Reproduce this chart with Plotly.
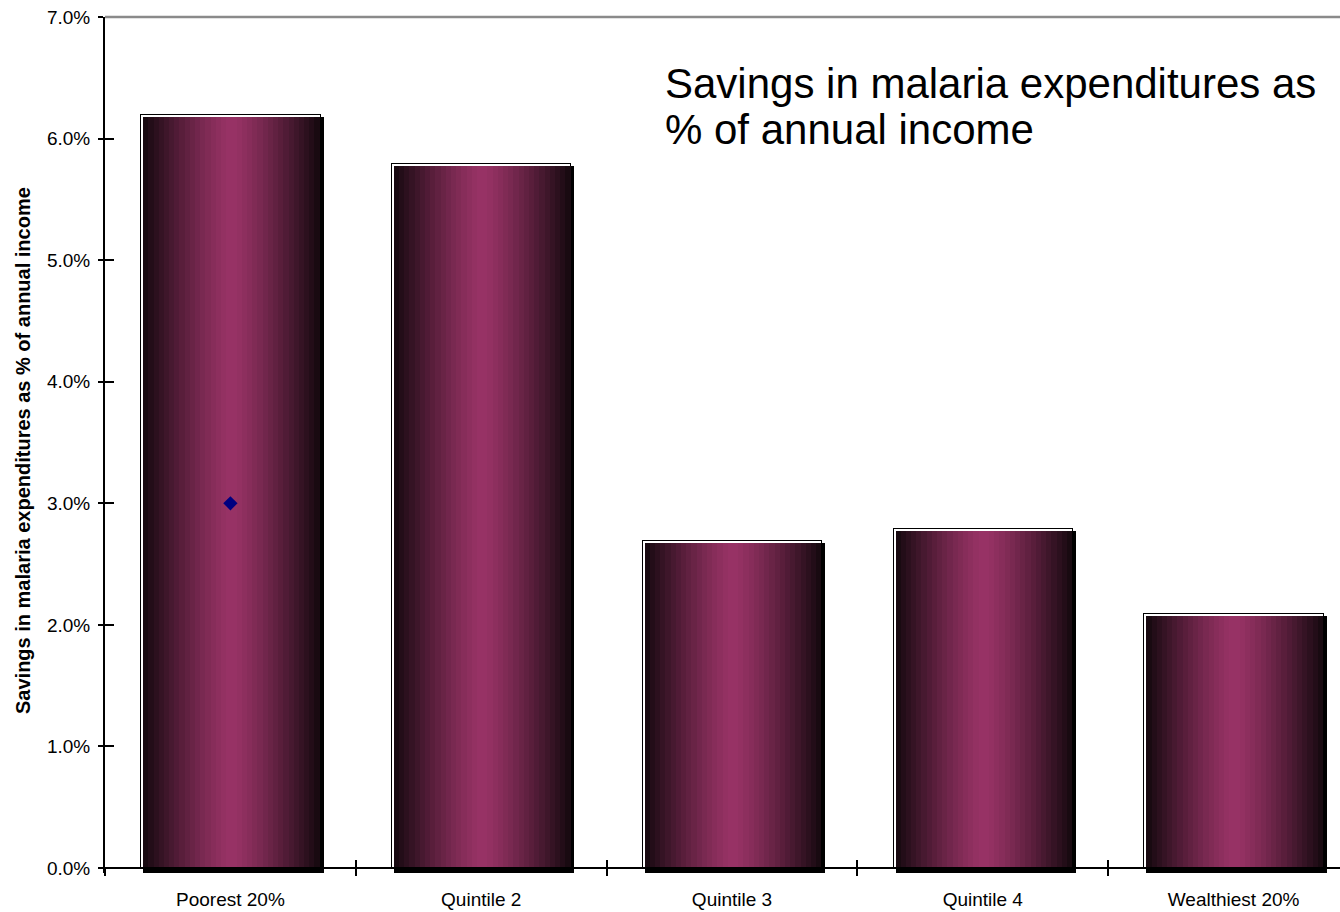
import plotly.graph_objects as go

# Savings in malaria expenditures by income quintile (% of annual income)
categories = ["Poorest 20%", "Quintile 2", "Quintile 3", "Quintile 4", "Wealthiest 20%"]
savings_pct = [6.2, 5.8, 2.7, 2.8, 2.1]

# single marker point plotted over the first bar
point_category = ["Poorest 20%"]
point_value = [3.0]

y_ticks = [0, 1, 2, 3, 4, 5, 6, 7]
y_ticktext = ["0.0%", "1.0%", "2.0%", "3.0%", "4.0%", "5.0%", "6.0%", "7.0%"]

title_lines = ["Savings in malaria expenditures as", "% of annual income"]
y_title = "Savings in malaria expenditures as % of annual income"

# ---- layout geometry ----
W, H = 1340, 912
AXIS_Y = 868                        # pixel row of the category axis
DROP = 5                            # room below the axis for bar shadows
M_L, M_R, M_T = 105, 0, 17
M_B = H - AXIS_Y - DROP
PLOT_W, PLOT_H = W - M_L - M_R, H - M_T - M_B
CAT_PX = 250.8                      # pixels per category slot
X_MAX = PLOT_W / CAT_PX - 0.5
Y_MAX = 7.0
PX = 1 / CAT_PX                     # one pixel in category units
PY = Y_MAX / (AXIS_Y - M_T)         # one pixel in value units
Y_MIN = -DROP * PY
AXIS_POS = DROP / PLOT_H            # category axis position inside the plot

BAR_W = 0.72
EDGE = (20, 8, 14)
CENTER = (153, 51, 102)
N_STRIPS = 34

fig = go.Figure()

# drop shadow: shifted 3px right and 3px down, running below the axis line
fig.add_trace(go.Bar(
    x=categories, y=[v - 3 * PY + DROP * PY for v in savings_pct],
    base=-DROP * PY, width=BAR_W, offset=-BAR_W / 2 + 3 * PX,
    marker=dict(color="#000000", line=dict(width=0)),
    hoverinfo="skip", showlegend=False,
))
# outer black frame
fig.add_trace(go.Bar(
    x=categories, y=savings_pct, width=BAR_W, offset=-BAR_W / 2,
    marker=dict(color="#000000", line=dict(width=0)),
    hoverinfo="skip", showlegend=False,
))
# white inner rim
fig.add_trace(go.Bar(
    x=categories, y=[v - 1 * PY for v in savings_pct],
    width=BAR_W - 2 * PX, offset=-BAR_W / 2 + 1 * PX,
    marker=dict(color="#ffffff", line=dict(width=0)),
    hoverinfo="skip", showlegend=False,
))

# horizontal gradient fill, built from narrow vertical strips
g_left = -BAR_W / 2 + 3 * PX
g_right = BAR_W / 2 - 1 * PX
strip_w = (g_right - g_left) / N_STRIPS
for i in range(N_STRIPS):
    t = (i + 0.5) / N_STRIPS
    f = 1 - abs(2 * t - 1) ** 1.25
    col = tuple(round(e + (c - e) * f) for e, c in zip(EDGE, CENTER))
    fig.add_trace(go.Bar(
        x=categories, y=[v - 3 * PY for v in savings_pct],
        width=strip_w * 1.02, offset=g_left + i * strip_w,
        marker=dict(color="rgb(%d,%d,%d)" % col, line=dict(width=0)),
        hoverinfo="skip", showlegend=False,
    ))

# the single data point
fig.add_trace(go.Scatter(
    x=point_category, y=point_value, mode="markers",
    marker=dict(symbol="diamond", size=11, color="#000080",
                line=dict(width=0)),
    showlegend=False,
))

# invisible trace that carries the inner half of the crossing ticks
fig.add_trace(go.Scatter(
    x=categories, y=savings_pct, xaxis="x2", yaxis="y2", mode="markers",
    marker=dict(opacity=0, size=1), hoverinfo="skip", showlegend=False,
))

FONT = "Liberation Sans, Arial, sans-serif"
TICK_FONT = dict(size=19, family=FONT, color="#000000")

fig.update_layout(
    width=W, height=H,
    margin=dict(l=M_L, r=M_R, t=M_T, b=M_B, pad=0),
    paper_bgcolor="white", plot_bgcolor="white",
    barmode="overlay", bargap=0,
    font=dict(family=FONT, color="#000000", size=15),
    xaxis=dict(
        type="category", categoryorder="array", categoryarray=categories,
        range=[-0.5, X_MAX], tickson="boundaries",
        anchor="free", position=AXIS_POS,
        ticks="outside", ticklen=7, tickwidth=2, tickcolor="#000000",
        showline=True, linecolor="#000000", linewidth=2,
        showgrid=False, zeroline=False, ticklabelstandoff=14,
        tickfont=TICK_FONT,
    ),
    yaxis=dict(
        range=[Y_MIN, Y_MAX], tickvals=y_ticks, ticktext=y_ticktext,
        ticks="outside", ticklen=5, tickwidth=2, tickcolor="#000000",
        showline=True, linecolor="#000000", linewidth=2,
        showgrid=False, zeroline=False, ticklabelstandoff=4,
        tickfont=TICK_FONT,
    ),
    xaxis2=dict(
        type="category", categoryorder="array", categoryarray=categories,
        overlaying="x", anchor="free", position=AXIS_POS, side="bottom",
        range=[-0.5, X_MAX],
        tickson="boundaries", ticks="inside", ticklen=8, tickwidth=2,
        tickcolor="#000000", showticklabels=False, showline=False,
        showgrid=False, zeroline=False,
    ),
    yaxis2=dict(
        overlaying="y", anchor="x2", side="left", range=[Y_MIN, Y_MAX],
        tickvals=y_ticks, ticks="inside", ticklen=9, tickwidth=2,
        tickcolor="#000000", showticklabels=False, showline=False,
        showgrid=False, zeroline=False,
    ),
    shapes=[dict(
        type="line", xref="paper", yref="paper", x0=0, x1=1, y0=1, y1=1,
        line=dict(color="#8a8a8a", width=2.5), layer="above",
    )],
    annotations=[
        dict(
            text=title_lines[0], xref="paper", yref="paper",
            x=(663 - M_L) / PLOT_W, y=1 - (83 - M_T) / PLOT_H,
            xanchor="left", yanchor="middle", align="left", showarrow=False,
            font=dict(size=42, family=FONT, color="#000000"),
        ),
        dict(
            text=title_lines[1], xref="paper", yref="paper",
            x=(663 - M_L) / PLOT_W, y=1 - (130 - M_T) / PLOT_H,
            xanchor="left", yanchor="middle", align="left", showarrow=False,
            font=dict(size=42, family=FONT, color="#000000"),
        ),
        dict(
            text="<b>%s</b>" % y_title,
            xref="paper", yref="paper",
            x=-(M_L - 23) / PLOT_W, y=1 - (451 - M_T) / PLOT_H,
            xanchor="center", yanchor="middle", textangle=-90, showarrow=False,
            font=dict(size=20, family=FONT, color="#000000"),
        ),
    ],
)

fig.write_html("out.html")
